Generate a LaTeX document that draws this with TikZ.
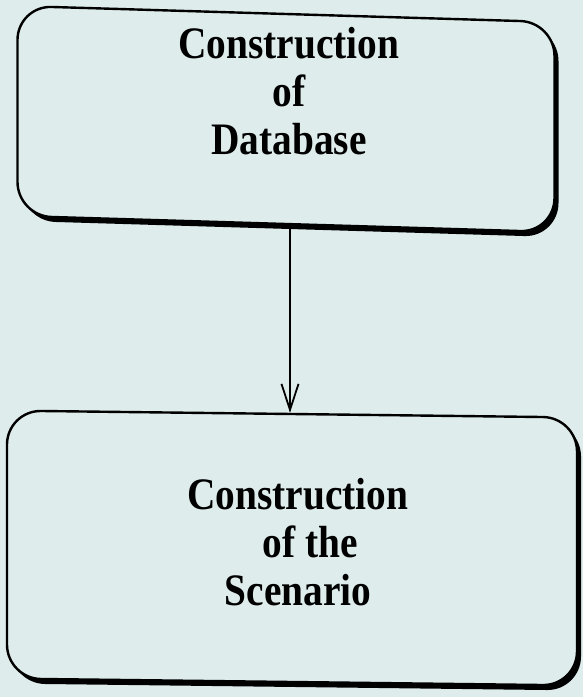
\documentclass[tikz,border=0pt]{standalone}
\usepackage{fontspec}
\setmainfont{Liberation Serif}[FakeStretch=0.875]
\usetikzlibrary{shadows,arrows.meta}
\definecolor{paper}{RGB}{222,236,235}
\tikzset{
  stage box/.style={
    draw=black, line width=2.4pt, rounded corners=34pt, fill=paper,
    drop shadow={shadow xshift=4pt, shadow yshift=-5pt, fill=black, opacity=1},
    inner sep=0pt
  },
  stage text/.style={
    align=center, font=\bfseries\fontsize{45}{48}\selectfont, inner sep=0pt
  },
  flow/.style={
    line width=1.3pt, -{Straight Barb[length=26pt, width=17pt, line width=1.8pt]}
  }
}

\begin{document}
\begin{tikzpicture}[x=1pt,y=-1pt]
\fill[paper] (0,0) rectangle (583,697);
\useasboundingbox (0,0) rectangle (583,697);
% the two stages
\node[stage box, yslant=-0.03, minimum width=537pt, minimum height=210pt] (dbbox) at (286,119) {};
\node[stage text] (dbtext) at (289,91) {Construction\\of\\Database};
\node[stage box, yslant=-0.012, minimum width=570pt, minimum height=268pt] (scbox) at (292,548) {};
\node[stage text] (sctext) at (298,542) {Construction\\\hspace*{24pt}of the\\Scenario};
% link
\coordinate (arrline) at (290,0);
\draw[flow] (dbbox.south -| arrline) -- (scbox.north -| arrline);
\end{tikzpicture}
\end{document}
